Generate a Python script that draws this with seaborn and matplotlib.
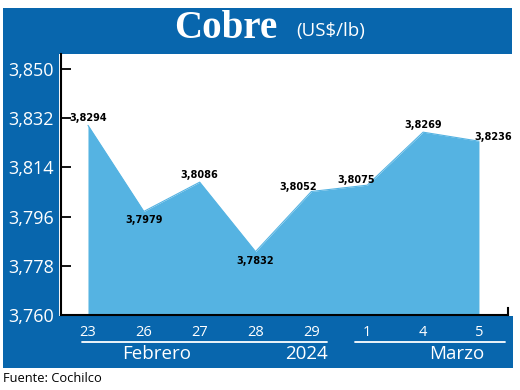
import numpy as np
import pandas as pd
import matplotlib.pyplot as plt
import seaborn as sns
from matplotlib.patches import Rectangle
from matplotlib.lines import Line2D

#%% data
dias = ["23", "26", "27", "28", "29", "1", "4", "5"]
precio = [3.8294, 3.7979, 3.8086, 3.7832, 3.8052, 3.8075, 3.8269, 3.8236]
etiquetas = ["3,8294", "3,7979", "3,8086", "3,7832", "3,8052", "3,8075", "3,8269", "3,8236"]
yticks = [3.760, 3.778, 3.796, 3.814, 3.832, 3.850]
ytick_labels = ["3,760", "3,778", "3,796", "3,814", "3,832", "3,850"]
meses = ["Febrero", "2024", "Marzo"]

# label offsets in pixels (dx, dy)
offs = [(0, 7), (0, -9), (0, 7), (0, -9), (-13, 4), (-11, 5), (0, 7), (14, 4)]

azul = "#0866ad"
celeste = "#55b3e2"

sns.set_style("ticks")
plt.rcParams["font.family"] = ["Open Sans", "DejaVu Sans"]

W, H = 520, 390
fig = plt.figure(figsize=(W / 100, H / 100), dpi=100)

def fr(x0, y0, x1, y1):
    # pixel box (top-left origin) -> figure fractions
    return (x0 / W, 1 - y1 / H, (x1 - x0) / W, (y1 - y0) / H)

# blue frame
for box in [(3, 8, 512, 54), (3, 54, 59, 368), (3, 316, 513, 368)]:
    x, y, w, h = fr(*box)
    fig.patches.append(Rectangle((x, y), w, h, transform=fig.transFigure,
                                 facecolor=azul, edgecolor="none", zorder=-5))

ax = fig.add_axes(fr(61, 54, 508, 315))
ax.set_facecolor("white")

df = pd.DataFrame({"dia": dias, "precio": precio})
pos = np.arange(len(dias))
ax.fill_between(pos, yticks[0], df.precio, color=celeste, lw=0, zorder=1)
sns.lineplot(data=df, x="dia", y="precio", ax=ax, color=celeste, lw=0.8, sort=False, zorder=2)

ax.set_xlim(-0.483, 7.52)
ax.set_ylim(3.760, 3.8555)
ax.set_xlabel("")
ax.set_ylabel("")

ax.set_yticks(yticks)
ax.set_yticklabels(ytick_labels)
ax.tick_params(axis="y", direction="in", length=7, width=1.3, color="black",
               labelcolor="white", labelsize=13, pad=5)
ax.set_xticks(pos)
ax.set_xticklabels(dias)
ax.tick_params(axis="x", length=0, labelcolor="white", labelsize=10.5, pad=7)

ax.spines["top"].set_visible(False)
for s in ["left", "bottom", "right"]:
    ax.spines[s].set_linewidth(1.5)
    ax.spines[s].set_color("black")
ax.spines["right"].set_bounds(3.760, 3.7625)

for i, (v, t) in enumerate(zip(precio, etiquetas)):
    dx, dy = offs[i]
    ax.annotate(t, (i, v), xytext=(dx * 0.72, dy * 0.72), textcoords="offset points",
                ha="center", va="center", fontsize=7, fontweight="bold",
                family=["Liberation Sans Narrow", "DejaVu Sans"], color="black", zorder=5)

# month lines and labels
for x0, x1 in [(82, 327), (355, 505)]:
    fig.add_artist(Line2D([x0 / W, x1 / W], [1 - 342 / H] * 2, transform=fig.transFigure,
                          color="white", lw=1.3))
for m, xm in zip(meses, [157, 307, 457]):
    fig.text(xm / W, 1 - 354 / H, m, color="white", fontsize=13.5, ha="center", va="center")

# title
fig.text(226 / W, 1 - 29 / H, "Cobre", color="white", fontsize=28, fontweight="bold",
         family=["Liberation Serif", "DejaVu Serif"], ha="center", va="center")
fig.text(331 / W, 1 - 31 / H, "(US$/lb)", color="white", fontsize=13.5, ha="center", va="center")

fig.text(3 / W, 1 - 379 / H, "Fuente: Cochilco", color="black", fontsize=9.3, ha="left", va="center")

plt.savefig("out.png", dpi=100)
